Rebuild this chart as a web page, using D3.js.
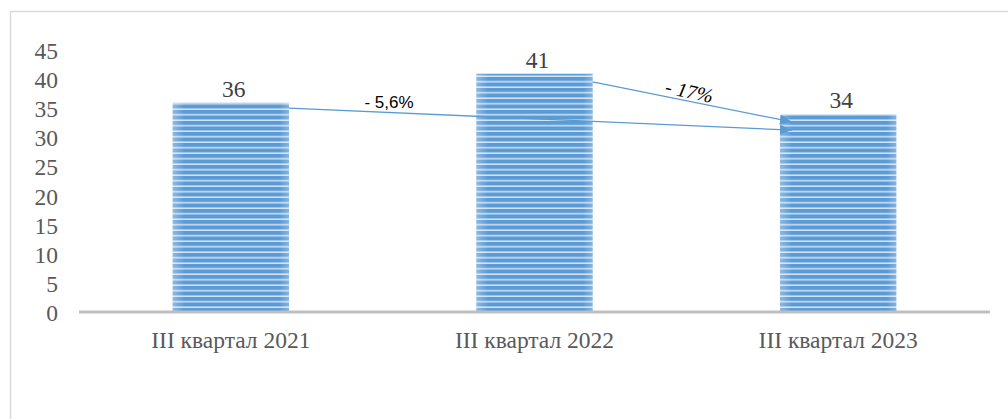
<!DOCTYPE html>
<html><head><meta charset="utf-8">
<script src="https://cdn.jsdelivr.net/npm/d3@7"></script>
<style>
body{margin:0;background:#fff;}
svg{display:block;}
.serif{font-family:"Liberation Serif","Times New Roman",serif;}
.sans{font-family:"Liberation Sans",Arial,sans-serif;}
</style>
</head><body>
<svg id="chart" width="1008" height="419"></svg>
<script>
const categories = ["III квартал 2021", "III квартал 2022", "III квартал 2023"];
const values = [36, 41, 34];
const yTicks = [0, 5, 10, 15, 20, 25, 30, 35, 40, 45];
// change arrows: from category / value to category / value
const arrowFrom = [0, 1];
const arrowFromValue = [35.1, 39.6];
const arrowTo = [2, 2];
const arrowToValue = [31.3, 32.7];
const arrowLabels = ["- 5,6%", "- 17%"];

const svg = d3.select("#chart");

// outer frame
svg.append("rect").attr("x", 10.5).attr("y", 11.5).attr("width", 1020).attr("height", 440)
  .attr("fill", "none").attr("stroke", "#d9d9d9").attr("stroke-width", 1.5);

const x = d3.scaleBand().domain(categories).range([79, 990]).paddingInner(0.617).paddingOuter(0.3085);
const y = d3.scaleLinear().domain([0, 45]).range([312, 50.5]);

// stripe pattern
const defs = svg.append("defs");
const pat = defs.append("pattern").attr("id", "stripes").attr("patternUnits", "userSpaceOnUse")
  .attr("width", 8).attr("height", 5.5).attr("y", 0);
pat.append("rect").attr("width", 8).attr("height", 5.5).attr("fill", "#5b9bd5");
pat.append("rect").attr("y", 4).attr("width", 8).attr("height", 1.5).attr("fill", "#d3e3f4");
const grad = defs.append("linearGradient").attr("id", "edge").attr("x1", 0).attr("x2", 1);
grad.append("stop").attr("offset", 0).attr("stop-color", "#fff").attr("stop-opacity", 0.3);
grad.append("stop").attr("offset", 0.1).attr("stop-color", "#fff").attr("stop-opacity", 0);
grad.append("stop").attr("offset", 0.92).attr("stop-color", "#fff").attr("stop-opacity", 0);
grad.append("stop").attr("offset", 1).attr("stop-color", "#fff").attr("stop-opacity", 0.25);

const marker = defs.append("marker").attr("id", "arr").attr("viewBox", "0 0 12 10")
  .attr("refX", 12).attr("refY", 5).attr("markerWidth", 12).attr("markerHeight", 10)
  .attr("markerUnits", "userSpaceOnUse").attr("orient", "auto");
marker.append("path").attr("d", "M0,0 L12,5 L0,10 Z").attr("fill", "#5b9bd5");

// y axis labels
const yAxis = d3.axisLeft(y).tickValues(yTicks).tickSize(0).tickPadding(0);
const ya = svg.append("g").attr("transform", "translate(58,0)").call(yAxis)
  .attr("font-family", null).attr("font-size", null);
ya.select(".domain").remove();
ya.selectAll("text").attr("class", "serif").style("font-size", "23.5px")
  .attr("fill", "#595959").attr("dy", "0.35em");

// bars
svg.selectAll("rect.bar").data(values).join("rect").attr("class", "bar")
  .attr("x", (d, i) => x(categories[i])).attr("y", d => y(d))
  .attr("width", x.bandwidth()).attr("height", d => y(0) - y(d))
  .attr("fill", "url(#stripes)");
svg.selectAll("rect.edge").data(values).join("rect").attr("class", "edge")
  .attr("x", (d, i) => x(categories[i])).attr("y", d => y(d))
  .attr("width", x.bandwidth()).attr("height", d => y(0) - y(d))
  .attr("fill", "url(#edge)");

// x axis
const xAxis = d3.axisBottom(x).tickSize(0).tickPadding(0);
const xa = svg.append("g").attr("transform", `translate(0,${y(0)})`).call(xAxis)
  .attr("font-family", null).attr("font-size", null);
xa.select(".domain").attr("stroke", "#bfbfbf").attr("stroke-width", 3).attr("d", `M${x.range()[0]},0H${x.range()[1]}`);
xa.selectAll("text").attr("class", "serif").style("font-size", "23.5px")
  .attr("fill", "#595959").attr("dy", "0").attr("y", 36);

// value labels
svg.selectAll("text.val").data(values).join("text").attr("class", "val serif")
  .attr("x", (d, i) => x(categories[i]) + x.bandwidth() / 2 + 3).attr("y", d => y(d) - 6)
  .attr("text-anchor", "middle").style("font-size", "23.5px")
  .attr("fill", "#404040").text(d => d);

// arrows
arrowFrom.forEach((fi, k) => {
  const x1 = x(categories[fi]) + x.bandwidth();
  const y1 = y(arrowFromValue[k]);
  const x2 = x(categories[arrowTo[k]]) + 12;
  const y2 = y(arrowToValue[k]);
  svg.append("line").attr("x1", x1).attr("y1", y1).attr("x2", x2).attr("y2", y2)
    .attr("stroke", "#5b9bd5").attr("stroke-width", 1.3).attr("marker-end", "url(#arr)");
});

// arrow labels
svg.append("text").attr("class", "sans").attr("x", 389).attr("y", 108).attr("text-anchor", "middle")
  .style("font-size", "17px").attr("fill", "#000").text(arrowLabels[0]);
svg.append("text").attr("class", "serif").attr("transform", "translate(688,98) rotate(12)").attr("text-anchor", "middle")
  .style("font-style", "italic").style("font-size", "20px")
  .attr("fill", "#000").text(arrowLabels[1]);
</script>
</body></html>
